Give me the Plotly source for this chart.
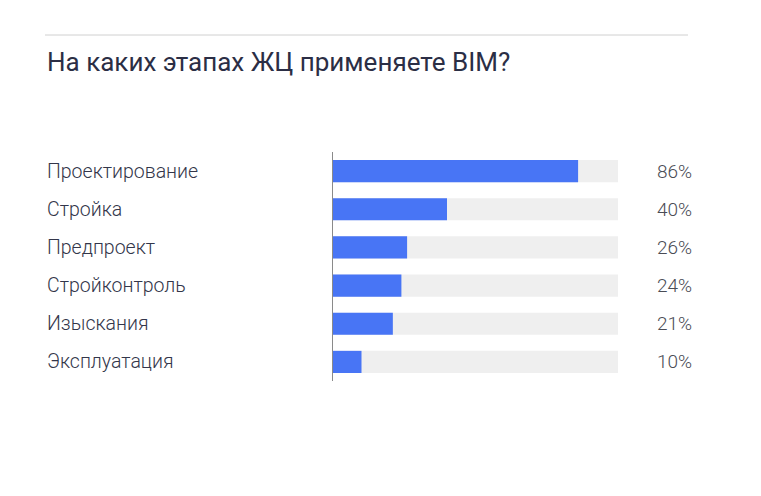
import plotly.graph_objects as go

categories = ["Проектирование", "Стройка", "Предпроект", "Стройконтроль", "Изыскания", "Эксплуатация"]
values = [86, 40, 26, 24, 21, 10]
value_labels = ["86%", "40%", "26%", "24%", "21%", "10%"]
track_max = 100
title_text = "На каких этапах ЖЦ применяете BIM?"

W, H = 761, 496
ml, mr, mt, mb = 333, 143, 152, 115
pw = W - ml - mr
ph = H - mt - mb

def px_x(x):
    return (x - ml) / pw

def px_y(y):
    return 1 - (y - mt) / ph

fig = go.Figure()
fig.add_trace(go.Bar(y=categories, x=[track_max] * len(categories), orientation="h",
                     marker=dict(color="#efefef", line=dict(width=0)), width=0.58,
                     hoverinfo="skip"))
fig.add_trace(go.Bar(y=categories, x=values, orientation="h",
                     marker=dict(color="#4875f5", line=dict(width=0)), width=0.58))

for c, lab in zip(categories, value_labels):
    fig.add_annotation(x=px_x(694), xref="paper", y=c, yref="y", text=lab, showarrow=False,
                       xanchor="right", font=dict(family="Roboto", size=19, weight=300, color="#4a4c55"))
    fig.add_annotation(x=px_x(45), xref="paper", y=c, yref="y", text=c, showarrow=False,
                       xanchor="left", font=dict(family="Roboto", size=19.5, weight=300, color="#33364a"))

fig.add_annotation(x=px_x(45), xref="paper", y=px_y(62), yref="paper", text=title_text,
                   showarrow=False, xanchor="left", yanchor="middle",
                   font=dict(family="Roboto", size=26, weight=400, color="#2b2e45"))

fig.add_shape(type="line", xref="paper", yref="paper", x0=px_x(45), x1=px_x(688),
              y0=px_y(35), y1=px_y(35), line=dict(color="#d0d0d0", width=1))

fig.update_layout(
    width=W, height=H, margin=dict(l=ml, r=mr, t=mt, b=mb),
    barmode="overlay", showlegend=False,
    paper_bgcolor="white", plot_bgcolor="white",
    xaxis=dict(range=[0, track_max], visible=False, fixedrange=True),
    yaxis=dict(autorange="reversed", showticklabels=False, showgrid=False, zeroline=False,
               showline=True, linecolor="#8a8a8a", linewidth=1, ticks=""),
)
fig.write_html("out.html")
